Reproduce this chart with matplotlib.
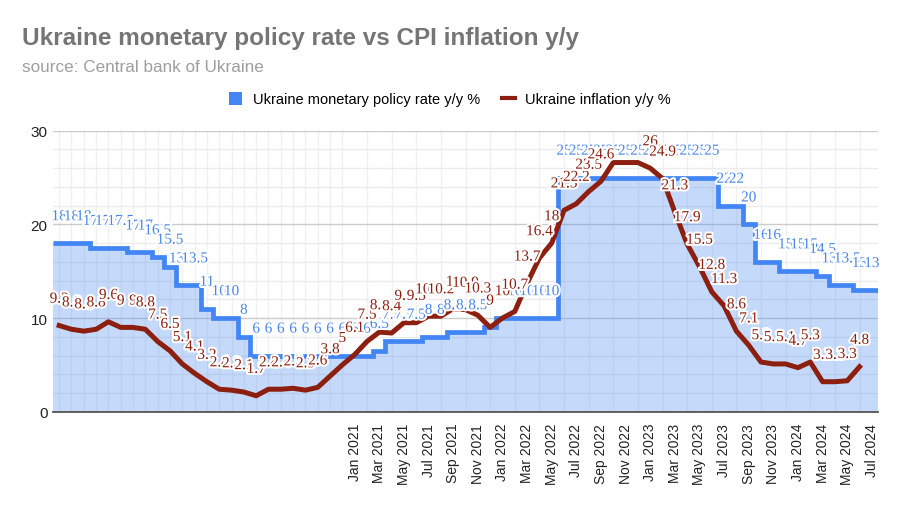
import numpy as np
import pandas as pd
import matplotlib
matplotlib.use("Agg")
import matplotlib.pyplot as plt
import matplotlib.patheffects as pe
from matplotlib.patches import Patch
from matplotlib.lines import Line2D

# monthly data, Jan 2019 .. Jul 2024
months = pd.date_range("2019-01-01", "2024-07-01", freq="MS")

policy_rate = [18, 18, 18, 17.5, 17.5, 17.5, 17, 17, 16.5, 15.5, 13.5, 13.5,
               11, 10, 10, 8, 6, 6, 6, 6, 6, 6, 6, 6,
               6, 6, 6.5, 7.5, 7.5, 7.5, 8, 8, 8.5, 8.5, 8.5, 9,
               10, 10, 10, 10, 10, 25, 25, 25, 25, 25, 25, 25,
               25, 25, 25, 25, 25, 25, 22, 22, 20, 16, 16, 15,
               15, 15, 14.5, 13.5, 13.5, 13, 13]

inflation = [9.2, 8.8, 8.6, 8.8, 9.6, 9.0, 9.0, 8.8, 7.5, 6.5, 5.1, 4.1,
             3.2, 2.4, 2.3, 2.1, 1.7, 2.4, 2.4, 2.5, 2.3, 2.6, 3.8, 5.0,
             6.1, 7.5, 8.5, 8.4, 9.5, 9.5, 10.2, 10.2, 11.0, 10.9, 10.3, 9.0,
             10.0, 10.7, 13.7, 16.4, 18.0, 21.5, 22.2, 23.5, 24.6, 26.6, 26.6, 26.6,
             26.0, 24.9, 21.3, 17.9, 15.5, 12.8, 11.3, 8.6, 7.1, 5.3, 5.1, 5.1,
             4.7, 5.3, 3.2, 3.2, 3.3, 4.8]

BLUE = "#4285F4"
BLUE_TXT = "#4a86e8"
RED = "#8c1f10"
YMAX = 30

fig = plt.figure(figsize=(9, 5.1), dpi=100)
ax = fig.add_axes([53 / 900, 1 - 412.7 / 510, (878 - 53) / 900, (412.7 - 131.7) / 510])

x_pol = np.arange(len(policy_rate))
x_inf = np.arange(len(inflation))
edges = np.arange(len(policy_rate) + 1) - 0.5

# stepped area for policy rate
ax.stairs(policy_rate, edges, fill=True, color=BLUE, alpha=0.3, lw=0, zorder=2)
ax.stairs(policy_rate, edges, baseline=None, color=BLUE, lw=3.4, zorder=3)

# inflation line
ax.plot(x_inf, inflation, color=RED, lw=3.6, solid_joinstyle="round", zorder=4)

halo = [pe.withStroke(linewidth=3, foreground="white")]


def add_labels(xs, vals, color, z):
    for i, v in zip(xs, vals):
        # labels that would stick out above the plot area are dropped, as in the source chart
        if v + 3.5 > YMAX:
            continue
        ax.annotate(f"{v:g}", (i, v), xytext=(0, 19), textcoords="offset points",
                    ha="center", va="center", color=color, fontsize=11,
                    family="Liberation Serif", path_effects=halo, zorder=z)


add_labels(x_pol, policy_rate, BLUE_TXT, 5)
add_labels(x_inf, inflation, RED, 6)

ax.set_xlim(-0.5, len(policy_rate) - 0.5)
ax.set_ylim(0, YMAX)

tick_pos = list(range(24, len(months), 2))
ax.set_xticks(tick_pos)
ax.set_xticklabels([months[i].strftime("%b %Y") for i in tick_pos],
                   rotation=90, fontsize=10, color="#222222", family="Liberation Sans")
ax.set_xticks(range(len(months)), minor=True)
ax.set_yticks([0, 10, 20, 30])
ax.set_yticklabels(["0", "10", "20", "30"], fontsize=11, color="#222222", family="Liberation Sans")
ax.set_yticks(np.arange(0, 31, 2), minor=True)
ax.tick_params(which="both", length=0)
ax.tick_params(axis="x", pad=8)
ax.tick_params(axis="y", pad=4)

ax.set_axisbelow(True)
ax.grid(axis="y", which="major", color="#cccccc", lw=1)
ax.grid(axis="y", which="minor", color="#ebebeb", lw=1)
ax.grid(axis="x", which="minor", color="#f0f0f0", lw=1)
for s in ["top", "right", "left"]:
    ax.spines[s].set_visible(False)
ax.spines["bottom"].set_color("#555555")
ax.spines["bottom"].set_linewidth(1.3)
ax.spines["bottom"].set_zorder(7)

fig.text(22 / 900, 1 - 38 / 510, "Ukraine monetary policy rate vs CPI inflation y/y",
         fontsize=17.5, fontweight="bold", color="#757575", va="center", family="Liberation Sans")
fig.text(22 / 900, 1 - 67 / 510, "source: Central bank of Ukraine",
         fontsize=12.3, color="#9e9e9e", va="center", family="Liberation Sans")

handles = [Patch(facecolor=BLUE, edgecolor="none"),
           Line2D([], [], color=RED, lw=3)]
fig.legend(handles, ["Ukraine monetary policy rate y/y %", "Ukraine inflation y/y %"],
           loc="center", bbox_to_anchor=(450 / 900, 1 - 100 / 510), ncol=2, frameon=False,
           prop={"family": "Liberation Sans", "size": 10.5}, handlelength=0.9, handleheight=1.0,
           columnspacing=1.5, handletextpad=0.7)

fig.savefig("out.png", dpi=100)
